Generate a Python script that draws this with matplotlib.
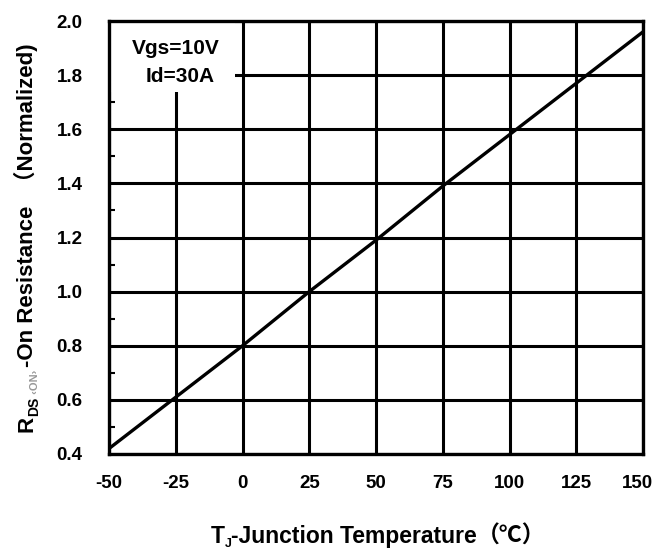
import matplotlib

matplotlib.use("Agg")
import matplotlib.pyplot as plt
from matplotlib.patches import Rectangle
from matplotlib.ticker import MultipleLocator
from matplotlib.transforms import ScaledTranslation

# data
temperature = [-50, -25, 0, 25, 50, 75, 100, 125, 150]
rds_norm = [0.42, 0.61, 0.80, 1.00, 1.19, 1.39, 1.58, 1.77, 1.96]
x_ticks = [-50, -25, 0, 25, 50, 75, 100, 125, 150]
y_ticks = [0.4, 0.6, 0.8, 1.0, 1.2, 1.4, 1.6, 1.8, 2.0]
condition_lines = ["Vgs=10V", "Id=30A"]

W, H = 654, 549
FAMILY = ["Liberation Sans", "Noto Sans CJK SC", "DejaVu Sans"]

fig = plt.figure(figsize=(W / 100, H / 100), dpi=100)
ax = fig.add_axes([109 / W, (H - 454) / H, 534 / W, 433 / H])

ax.plot(temperature, rds_norm, color="black", lw=2.4, zorder=2,
        solid_capstyle="butt")
ax.set_xlim(-50, 150)
ax.set_ylim(0.4, 2.0)
ax.set_xticks(x_ticks)
ax.set_yticks(y_ticks)
ax.set_xticklabels([str(v) for v in x_ticks])
ax.set_yticklabels([f"{v:.1f}" for v in y_ticks])
ax.yaxis.set_minor_locator(MultipleLocator(0.1))
ax.tick_params(axis="both", which="major", length=0, labelsize=13.5, colors="black")
ax.tick_params(axis="x", pad=15)
ax.tick_params(axis="y", pad=19)
ax.tick_params(axis="y", which="minor", direction="in", length=4, width=1.5)
for lab in ax.get_xticklabels() + ax.get_yticklabels():
    lab.set_fontfamily(FAMILY)
    lab.set_fontweight("bold")

# last x label sits against the right edge, as in the reference
last = ax.get_xticklabels()[-1]
last.set_horizontalalignment("right")
last.set_transform(last.get_transform() + ScaledTranslation(10 / 100, 0, fig.dpi_scale_trans))

ax.set_axisbelow(True)
ax.grid(True, which="major", color="black", lw=2.2)
for sp in ax.spines.values():
    sp.set_linewidth(2.4)
    sp.set_zorder(3)

# white box behind the test conditions
ax.add_patch(Rectangle((0, (454 - 92) / 433), (235 - 109) / 534, 1, transform=ax.transAxes,
                       facecolor="white", edgecolor="none", zorder=1))
ax.text((176 - 109) / 534, (454 - 48) / 433, condition_lines[0], transform=ax.transAxes,
        ha="center", va="center", fontsize=15, fontweight="bold", family=FAMILY, zorder=4)
ax.text((180 - 109) / 534, (454 - 76) / 433, condition_lines[1], transform=ax.transAxes,
        ha="center", va="center", fontsize=15, fontweight="bold", family=FAMILY, zorder=4)

renderer = fig.canvas.get_renderer()


def piece_width(s, size):
    t = fig.text(0, 0, s, fontsize=size, fontweight="bold", family=FAMILY)
    w = t.get_window_extent(renderer).width
    t.remove()
    return w


def chain(parts, center, base, rotation=0):
    # parts: (text, size, shift_px, colour); shift is towards the subscript side
    widths = [piece_width(s, size) for s, size, _, _ in parts]
    pos = center - sum(widths) / 2
    for (s, size, shift, col), w in zip(parts, widths):
        if rotation == 0:
            x, y = pos, base - shift
        else:
            x, y = base + shift, pos
        fig.text(x / W, y / H, s, fontsize=size, fontweight="bold", family=FAMILY,
                 color=col, rotation=rotation, rotation_mode="anchor",
                 ha="left", va="baseline")
        pos += w


chain([("T", 16.5, 0, "black"), ("J", 9, 4, "black"),
       ("-Junction Temperature", 16.5, 0, "black"), ("（℃）", 16.5, 0, "black")],
      center=378, base=H - 543)
chain([("R", 16, 0, "black"), ("DS", 10, 5, "black"), (" ‹ON› ", 8, 5, "#999999"),
       ("-On Resistance", 16, 0, "black"), ("  （Normalized)", 16, 0, "black")],
      center=H - 238, base=33, rotation=90)

fig.savefig("out.png", dpi=100)
